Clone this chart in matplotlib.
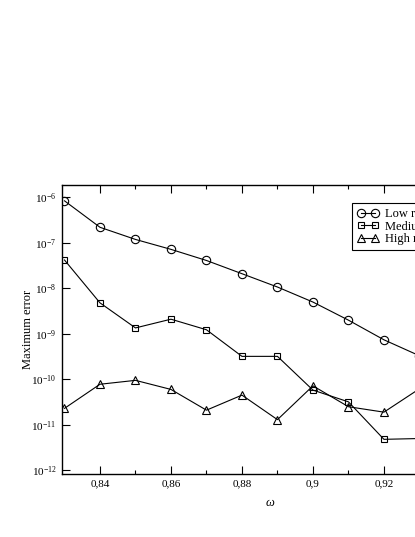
import numpy as np
import matplotlib
matplotlib.use("Agg")
from matplotlib import pyplot as plt

# Valores
omega = [0.83, 0.84, 0.85, 0.86, 0.87, 0.88, 0.89, 0.90, 0.91, 0.92, 0.93]
err_low = [8.4e-7, 2.2e-7, 1.19e-7, 7.2e-8, 4.1e-8, 2.1e-8, 1.07e-8, 5.0e-9, 2.0e-9, 7.4e-10, 3.3e-10]
err_med = [4.2e-8, 4.8e-9, 1.35e-9, 2.1e-9, 1.23e-9, 3.2e-10, 3.2e-10, 5.8e-11, 3.2e-11, 4.8e-12, 5.0e-12]
err_high = [2.3e-11, 7.8e-11, 9.5e-11, 6.0e-11, 2.1e-11, 4.5e-11, 1.3e-11, 7.2e-11, 2.5e-11, 1.9e-11, 6.2e-11]
labels = ['Low resolution', 'Medium resolution', 'High resolution']
xticks = [0.84, 0.86, 0.88, 0.9, 0.92, 0.94]
xticklabels = ['0,84', '0,86', '0,88', '0,9', '0,92', '0,94']

plt.rcParams['font.family'] = ['Liberation Serif', 'DejaVu Serif']
plt.rcParams['mathtext.fontset'] = 'custom'
plt.rcParams['mathtext.rm'] = 'Liberation Serif'
plt.rcParams['mathtext.it'] = 'Liberation Serif:italic'

fig = plt.figure(figsize=(4.15, 5.37), dpi=100)
# El eje sobrepasa el borde derecho, como en la imagen original
ax = fig.add_axes([62/415, 1 - 474/537, 416/415, 289.3/537])

estilo = dict(color='black', linewidth=0.8, markerfacecolor='none',
              markeredgecolor='black', markeredgewidth=0.8)
ax.plot(omega, err_low, marker='o', markersize=6.0, label=labels[0], **estilo)
ax.plot(omega, err_med, marker='s', markersize=5.0, label=labels[1], **estilo)
ax.plot(omega, err_high, marker='^', markersize=6.2, label=labels[2], **estilo)

ax.set_yscale('log')
ax.set_xlim(0.8293, 0.9465)
ax.set_ylim(8.3e-13, 1.9e-6)

ax.set_yticks([10.0**k for k in range(-12, -5)])
ax.set_yticklabels([r'$10^{%d}$' % k for k in range(-12, -5)])
ax.yaxis.set_minor_locator(matplotlib.ticker.NullLocator())
ax.set_xticks(xticks)
ax.set_xticklabels(xticklabels)
ax.set_xticks(np.arange(0.85, 0.95, 0.02), minor=True)

ax.tick_params(which='both', direction='in', top=True, right=True, labelsize=8)
ax.tick_params(which='major', length=5.8, width=0.8)
ax.tick_params(which='minor', length=3, width=0.8)
ax.tick_params(axis='x', pad=4)
ax.tick_params(axis='y', pad=4)
for s in ax.spines.values():
    s.set_linewidth(1.0)

ax.set_xlabel(r'$\omega$', fontsize=9, labelpad=6)
ax.set_ylabel('Maximum error', fontsize=9, labelpad=-2)

leg = ax.legend(loc='upper left', bbox_to_anchor=(0.698, 0.936), borderaxespad=0,
                numpoints=2, handlelength=1.75, handletextpad=0.5, labelspacing=0.05,
                fontsize=9, fancybox=False, edgecolor='black', framealpha=1,
                borderpad=0.4)
leg.get_frame().set_linewidth(0.8)

plt.savefig('out.png', dpi=100)
